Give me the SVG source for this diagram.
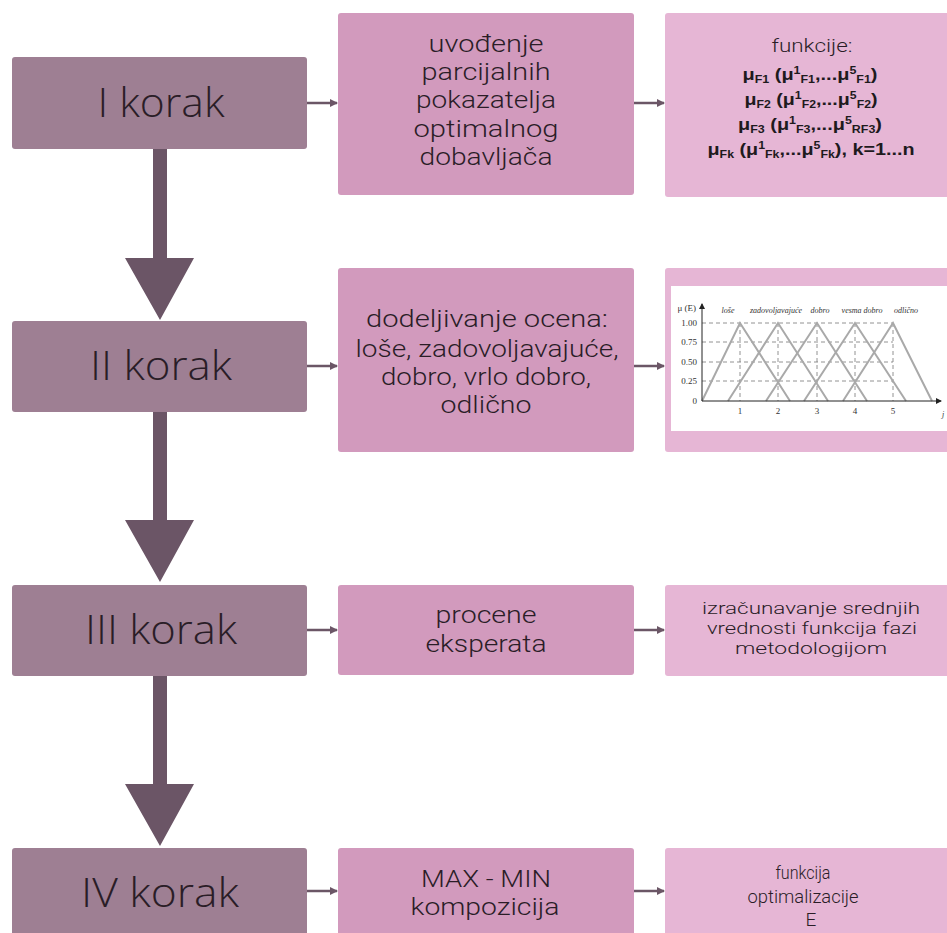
<svg xmlns="http://www.w3.org/2000/svg" width="947" height="933" viewBox="0 0 947 933">
<defs>
<style>
.step{fill:#9e7f93}
.mid{fill:#d29abd}
.rgt{fill:#e6b6d5}
.st{font-family:"Open Sans","Liberation Sans",sans-serif;font-weight:300;fill:#2a1d27;text-anchor:middle}
.tx{font-family:Roboto,"Liberation Sans",sans-serif;font-weight:300;fill:#2a1d27;text-anchor:middle}
.bt{font-family:"Liberation Sans",Arial,sans-serif;font-weight:bold;fill:#1e1a1d;text-anchor:middle}
.ch{font-family:"Liberation Serif","Times New Roman",serif;fill:#333}
.grid{stroke:#777;stroke-width:0.8;stroke-dasharray:4 3;fill:none}
.tri{stroke:#a9a9a9;stroke-width:2;fill:none}
.link{stroke:#6b5666;stroke-width:2.5;fill:none}
.big{fill:#6b5566}
</style>
<marker id="ah" markerWidth="8" markerHeight="8" refX="7" refY="4" orient="auto" markerUnits="userSpaceOnUse" viewBox="0 0 8 8">
<path d="M0,0 L8,4 L0,8 z" fill="#6b5666"/>
</marker>
<marker id="ch" markerWidth="6" markerHeight="6" refX="5" refY="3" orient="auto" markerUnits="userSpaceOnUse" viewBox="0 0 6 6">
<path d="M0,0 L6,3 L0,6 z" fill="#222"/>
</marker>
</defs>
<rect width="947" height="933" fill="#fff"/>

<g id="connectors">
<path class="big" d="M153,148 H167 V258 H194 L160,320 L125,258 H153 Z"/>
<path class="big" d="M153,412 H167 V520 H194 L160,582 L125,520 H153 Z"/>
<path class="big" d="M153,675 H167 V784 H194 L160,846 L125,784 H153 Z"/>
<line class="link" x1="307" y1="103" x2="337" y2="103" marker-end="url(#ah)"/>
<line class="link" x1="634" y1="103" x2="664" y2="103" marker-end="url(#ah)"/>
<line class="link" x1="307" y1="366" x2="337" y2="366" marker-end="url(#ah)"/>
<line class="link" x1="634" y1="366" x2="664" y2="366" marker-end="url(#ah)"/>
<line class="link" x1="307" y1="630" x2="337" y2="630" marker-end="url(#ah)"/>
<line class="link" x1="634" y1="630" x2="664" y2="630" marker-end="url(#ah)"/>
<line class="link" x1="307" y1="891" x2="337" y2="891" marker-end="url(#ah)"/>
<line class="link" x1="634" y1="891" x2="664" y2="891" marker-end="url(#ah)"/>
</g>

<g id="step1">
<rect class="step" x="12" y="57" width="295" height="92" rx="3"/>
<text class="st" x="161" y="117" font-size="40" textLength="127" lengthAdjust="spacingAndGlyphs">I korak</text>
</g>
<g id="step2">
<rect class="step" x="12" y="321" width="295" height="91" rx="3"/>
<text class="st" x="161" y="380" font-size="40" textLength="142" lengthAdjust="spacingAndGlyphs">II korak</text>
</g>
<g id="step3">
<rect class="step" x="12" y="585" width="295" height="91" rx="3"/>
<text class="st" x="161" y="644" font-size="40" textLength="152" lengthAdjust="spacingAndGlyphs">III korak</text>
</g>
<g id="step4">
<rect class="step" x="12" y="848" width="295" height="95" rx="3"/>
<text class="st" x="160" y="907" font-size="41" textLength="158" lengthAdjust="spacingAndGlyphs">IV korak</text>
</g>

<g id="mid1">
<rect class="mid" x="338" y="13" width="296" height="182" rx="3"/>
<text class="tx" font-size="23"><tspan x="486" y="52" textLength="115" lengthAdjust="spacingAndGlyphs">uvođenje</tspan><tspan x="486" y="80" textLength="129" lengthAdjust="spacingAndGlyphs">parcijalnih</tspan><tspan x="486" y="108" textLength="140" lengthAdjust="spacingAndGlyphs">pokazatelja</tspan><tspan x="486" y="137" textLength="145" lengthAdjust="spacingAndGlyphs">optimalnog</tspan><tspan x="486" y="165" textLength="133" lengthAdjust="spacingAndGlyphs">dobavljača</tspan></text>
</g>
<g id="mid2">
<rect class="mid" x="338" y="268" width="296" height="184" rx="3"/>
<text class="tx" font-size="23"><tspan x="487" y="327" textLength="242" lengthAdjust="spacingAndGlyphs">dodeljivanje ocena:</tspan><tspan x="487" y="357" textLength="263" lengthAdjust="spacingAndGlyphs">loše, zadovoljavajuće,</tspan><tspan x="486" y="385" textLength="210" lengthAdjust="spacingAndGlyphs">dobro, vrlo dobro,</tspan><tspan x="486" y="413" textLength="91" lengthAdjust="spacingAndGlyphs">odlično</tspan></text>
</g>
<g id="mid3">
<rect class="mid" x="338" y="585" width="296" height="90" rx="3"/>
<text class="tx" font-size="24"><tspan x="486" y="623" textLength="101" lengthAdjust="spacingAndGlyphs">procene</tspan><tspan x="486" y="652" textLength="121" lengthAdjust="spacingAndGlyphs">eksperata</tspan></text>
</g>
<g id="mid4">
<rect class="mid" x="338" y="848" width="296" height="95" rx="3"/>
<text class="tx" font-size="23"><tspan x="486" y="887" textLength="130" lengthAdjust="spacingAndGlyphs">MAX - MIN</tspan><tspan x="485" y="915" textLength="149" lengthAdjust="spacingAndGlyphs">kompozicija</tspan></text>
</g>

<g id="right1">
<rect class="rgt" x="665" y="13" width="290" height="184" rx="3"/>
<text class="tx" x="812" y="52" font-size="18" textLength="81" lengthAdjust="spacingAndGlyphs">funkcije:</text>
<text class="bt" x="810" y="80" font-size="16" textLength="135" lengthAdjust="spacingAndGlyphs">μ<tspan font-size="10" dy="3">F1</tspan><tspan dy="-3"> (μ</tspan><tspan font-size="10" dy="-6">1</tspan><tspan font-size="10" dy="9">F1</tspan><tspan dy="-3">,...μ</tspan><tspan font-size="10" dy="-6">5</tspan><tspan font-size="10" dy="9">F1</tspan><tspan dy="-3">)</tspan></text>
<text class="bt" x="811" y="105" font-size="16" textLength="133" lengthAdjust="spacingAndGlyphs">μ<tspan font-size="10" dy="3">F2</tspan><tspan dy="-3"> (μ</tspan><tspan font-size="10" dy="-6">1</tspan><tspan font-size="10" dy="9">F2</tspan><tspan dy="-3">,...μ</tspan><tspan font-size="10" dy="-6">5</tspan><tspan font-size="10" dy="9">F2</tspan><tspan dy="-3">)</tspan></text>
<text class="bt" x="810" y="130" font-size="16" textLength="144" lengthAdjust="spacingAndGlyphs">μ<tspan font-size="10" dy="3">F3</tspan><tspan dy="-3"> (μ</tspan><tspan font-size="10" dy="-6">1</tspan><tspan font-size="10" dy="9">F3</tspan><tspan dy="-3">,...μ</tspan><tspan font-size="10" dy="-6">5</tspan><tspan font-size="10" dy="9">RF3</tspan><tspan dy="-3">)</tspan></text>
<text class="bt" x="811" y="155" font-size="16" textLength="207" lengthAdjust="spacingAndGlyphs">μ<tspan font-size="10" dy="3">Fk</tspan><tspan dy="-3"> (μ</tspan><tspan font-size="10" dy="-6">1</tspan><tspan font-size="10" dy="9">Fk</tspan><tspan dy="-3">,...μ</tspan><tspan font-size="10" dy="-6">5</tspan><tspan font-size="10" dy="9">Fk</tspan><tspan dy="-3">), k=1...n</tspan></text>
</g>

<g id="right2">
<rect class="rgt" x="665" y="268" width="290" height="184" rx="3"/>
<rect x="671" y="286" width="280" height="145" fill="#fff"/>
<g class="grid">
<path d="M702,323 H893 M702,342 H893 M702,362 H893 M702,381 H893"/>
<path d="M740,323 V401 M778,323 V401 M817,323 V401 M855,323 V401 M893,323 V401"/>
</g>
<g class="tri">
<polyline points="702,401 740,323 790,401"/>
<polyline points="728,401 778,323 828,401"/>
<polyline points="766,401 817,323 867,401"/>
<polyline points="804,401 855,323 906,401"/>
<polyline points="843,401 893,323 932,401"/>
</g>
<line x1="702" y1="401" x2="941" y2="401" stroke="#222" stroke-width="1" marker-end="url(#ch)"/>
<line x1="702" y1="401" x2="702" y2="304" stroke="#222" stroke-width="1" marker-end="url(#ch)"/>
<g class="ch" font-size="9" text-anchor="end">
<text x="697" y="326">1.00</text>
<text x="697" y="345">0.75</text>
<text x="697" y="365">0.50</text>
<text x="697" y="384">0.25</text>
<text x="697" y="404">0</text>
<text x="696" y="311">μ (E)</text>
</g>
<g class="ch" font-size="9" text-anchor="middle">
<text x="740" y="414">1</text>
<text x="778" y="414">2</text>
<text x="817" y="414">3</text>
<text x="855" y="414">4</text>
<text x="893" y="414">5</text>
</g>
<g class="ch" font-size="8" font-style="italic" text-anchor="middle">
<text x="728" y="313">loše</text>
<text x="776" y="313">zadovoljavajuće</text>
<text x="820" y="313">dobro</text>
<text x="862" y="313">vesma dobro</text>
<text x="906" y="313">odlično</text>
<text x="943" y="417">j</text>
</g>
</g>

<g id="right3">
<rect class="rgt" x="665" y="585" width="290" height="91" rx="3"/>
<text class="tx" font-size="17"><tspan x="811" y="614" textLength="218" lengthAdjust="spacingAndGlyphs">izračunavanje srednjih</tspan><tspan x="812" y="634" textLength="210" lengthAdjust="spacingAndGlyphs">vrednosti funkcija fazi</tspan><tspan x="811" y="654" textLength="152" lengthAdjust="spacingAndGlyphs">metodologijom</tspan></text>
</g>
<g id="right4">
<rect class="rgt" x="665" y="848" width="290" height="95" rx="3"/>
<text class="tx" font-size="19"><tspan x="803" y="879" textLength="55" lengthAdjust="spacingAndGlyphs">funkcija</tspan><tspan x="803" y="903" textLength="111" lengthAdjust="spacingAndGlyphs">optimalizacije</tspan><tspan x="811" y="926">E</tspan></text>
</g>
</svg>
